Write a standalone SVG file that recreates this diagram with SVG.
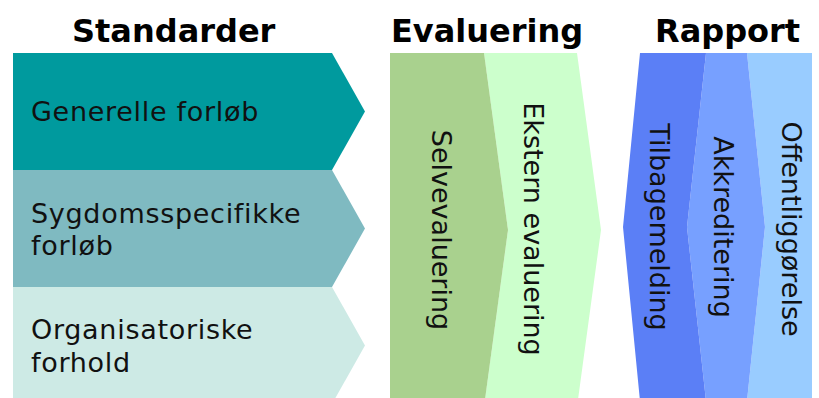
<svg xmlns="http://www.w3.org/2000/svg" width="819" height="398" viewBox="0 0 819 398">
  <style>
    .head { font-family: "DejaVu Sans", Verdana, sans-serif; font-weight: bold; font-size: 32px; fill: #000; }
    .lbl { font-family: "DejaVu Sans", Verdana, sans-serif; font-size: 27px; letter-spacing: 0.7px; fill: #111; }
    .vlbl { font-family: "DejaVu Sans", Verdana, sans-serif; font-size: 27px; fill: #111; text-anchor: middle; dominant-baseline: central; }
  </style>
  <rect width="819" height="398" fill="#ffffff"/>

  <!-- column headings -->
  <g id="headings">
    <text class="head" x="72" y="42">Standarder</text>
    <text class="head" x="391" y="42">Evaluering</text>
    <text class="head" x="655" y="42">Rapport</text>
  </g>

  <!-- Standarder: three stacked right-pointing chevrons -->
  <g id="generelle-forlob">
    <polygon points="13,53 332,53 365,111.5 332,170 13,170" fill="#009a9e"/>
    <text class="lbl" x="31" y="121">Generelle forløb</text>
  </g>
  <g id="sygdomsspecifikke-forlob">
    <polygon points="13,170 332,170 365,228.5 332,287 13,287" fill="#7fbac1"/>
    <text class="lbl" x="31" y="223">Sygdomsspecifikke</text>
    <text class="lbl" x="31" y="255">forløb</text>
  </g>
  <g id="organisatoriske-forhold">
    <polygon points="13,287 332,287 365,345.5 332,404 13,404" fill="#cdeae5"/>
    <text class="lbl" x="31" y="339">Organisatoriske</text>
    <text class="lbl" x="31" y="372">forhold</text>
  </g>

  <!-- Evaluering: two side-by-side chevrons -->
  <g id="ekstern-evaluering">
    <polygon points="484,53 577,53 601,230 577,407 484,407 508,230" fill="#ccffcc"/>
    <text class="vlbl" transform="translate(533,229) rotate(90)">Ekstern evaluering</text>
  </g>
  <g id="selvevaluering">
    <polygon points="390,53 484,53 508,230 484,407 390,407" fill="#a9d18e"/>
    <text class="vlbl" transform="translate(441,230) rotate(90)">Selvevaluering</text>
  </g>

  <!-- Rapport: three side-by-side bands -->
  <g id="offentliggorelse">
    <polygon points="747,53 812,53 812,401 747,401 765,227" fill="#99ccff"/>
    <text class="vlbl" transform="translate(791,229) rotate(90)">Offentliggørelse</text>
  </g>
  <g id="akkreditering">
    <polygon points="706,53 747,53 765,227 747,401 706,401 687,227" fill="#77a0ff"/>
    <text class="vlbl" transform="translate(723,227) rotate(90)">Akkreditering</text>
  </g>
  <g id="tilbagemelding">
    <polygon points="640,53 706,53 687,227 706,401 640,401 623,227" fill="#5b7ff6"/>
    <text class="vlbl" transform="translate(659,227) rotate(90)">Tilbagemelding</text>
  </g>

  <g id="connectors"/>
</svg>
